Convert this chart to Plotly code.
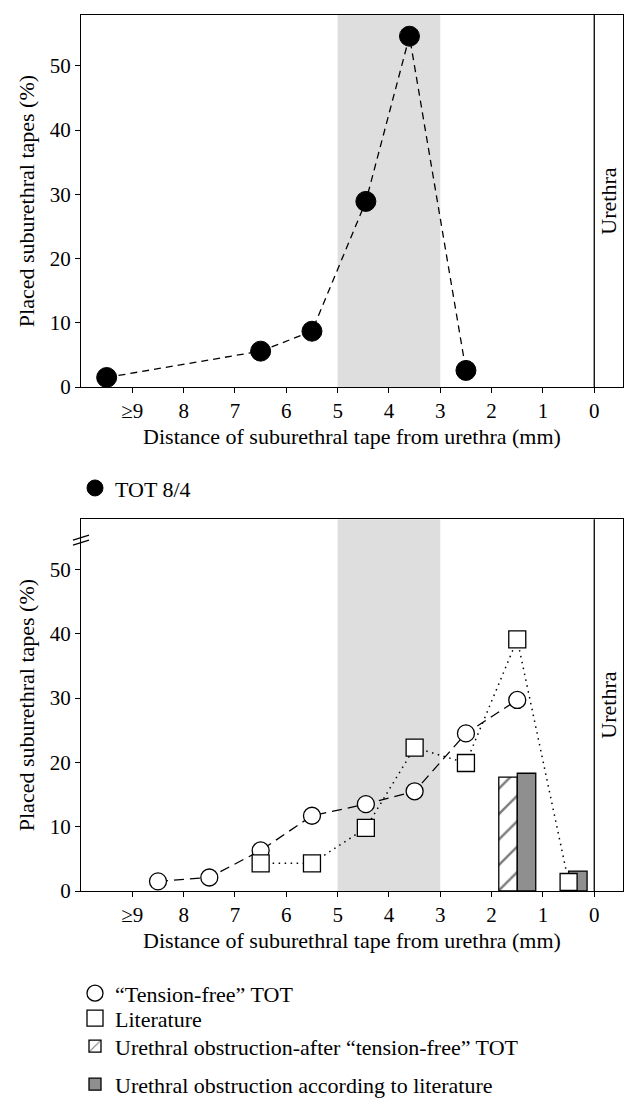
import plotly.graph_objects as go
from plotly.subplots import make_subplots

###############################################################################
# Data
###############################################################################
# distance (mm) for each point
top_x = [9.5, 6.5, 5.5, 4.45, 3.6, 2.5]
top_y = [1.5, 5.6, 8.7, 28.9, 54.6, 2.6]

free_x = [8.5, 7.5, 6.5, 5.5, 4.45, 3.5, 2.5, 1.5]
free_y = [1.5, 2.1, 6.3, 11.7, 13.5, 15.5, 24.5, 29.7]

lit_x = [6.5, 5.5, 4.45, 3.5, 2.5, 1.5, 0.5]
lit_y = [4.3, 4.3, 9.8, 22.3, 19.9, 39.1, 1.4]

obst_free_x = [1.5]
obst_free_y = [17.7]
obst_lit_x = [1.5, 0.5]
obst_lit_y = [18.3, 3.1]

tick_vals = [9, 8, 7, 6, 5, 4, 3, 2, 1, 0]
tick_text = ["≥9", "8", "7", "6", "5", "4", "3", "2", "1", "0"]

FONT = "Liberation Serif"
# page has an 8px body margin, so the figure is drawn 8px smaller
W, H = 630, 1106
ML, MR, MT, MB = 73, 15, 7, 223.3
ph = H - MT - MB
pw = W - ML - MR


def py(px):
    # page pixel row -> paper y
    return (H - MB - (px - 8)) / ph


def pxx(px):
    # page pixel column -> paper x
    return (px - 8 - ML) / pw


###############################################################################
# Figure
###############################################################################
fig = make_subplots(rows=2, cols=1, vertical_spacing=0.05)

# top chart
fig.add_trace(go.Scatter(x=top_x, y=top_y, mode="lines", showlegend=False,
                         line=dict(color="black", width=1.3, dash="7px,5px")),
              row=1, col=1)
fig.add_trace(go.Scatter(x=top_x, y=top_y, mode="markers", name="TOT 8/4",
                         legend="legend", cliponaxis=False,
                         marker=dict(symbol="circle", size=20, color="black",
                                     line=dict(color="black", width=1))),
              row=1, col=1)

# bottom chart - bars first
fig.add_trace(go.Bar(x=obst_free_x, y=obst_free_y, offset=0, width=0.36,
                     name="Urethral obstruction-after \u201ctension-free\u201d TOT",
                     legend="legend4",
                     marker=dict(color="white",
                                 line=dict(color="black", width=1.3),
                                 pattern=dict(shape="/", fgcolor="black",
                                              bgcolor="white", size=18,
                                              solidity=0.14))),
              row=2, col=1)
fig.add_trace(go.Bar(x=obst_lit_x, y=obst_lit_y, offset=-0.36, width=0.36,
                     name="Urethral obstruction according to literature",
                     legend="legend5",
                     marker=dict(color="#8f8f8f",
                                 line=dict(color="black", width=1.3))),
              row=2, col=1)

fig.add_trace(go.Scatter(x=free_x, y=free_y, mode="lines", showlegend=False,
                         line=dict(color="black", width=1.3, dash="10px,6px")),
              row=2, col=1)
fig.add_trace(go.Scatter(x=lit_x, y=lit_y, mode="lines", showlegend=False,
                         line=dict(color="black", width=1.5, dash="1.5px,4.5px")),
              row=2, col=1)
fig.add_trace(go.Scatter(x=free_x, y=free_y, mode="markers",
                         name="\u201cTension-free\u201d TOT", legend="legend2",
                         cliponaxis=False,
                         marker=dict(symbol="circle", size=17, color="white",
                                     line=dict(color="black", width=1.3))),
              row=2, col=1)
fig.add_trace(go.Scatter(x=lit_x, y=lit_y, mode="markers", name="Literature",
                         legend="legend3", cliponaxis=False,
                         marker=dict(symbol="square", size=17, color="white",
                                     line=dict(color="black", width=1.3))),
              row=2, col=1)

# shaded 3-5 mm zone, urethra line, label
for r in (1, 2):
    xr = "x" if r == 1 else "x2"
    yd = "y domain" if r == 1 else "y2 domain"
    fig.add_shape(type="rect", xref=xr, yref=yd, x0=5, x1=3, y0=0, y1=1,
                  fillcolor="#dedede", line=dict(width=0), layer="below")
    fig.add_shape(type="line", xref=xr, yref=yd, x0=0, x1=0, y0=0, y1=1,
                  line=dict(color="black", width=1.3))
    fig.add_annotation(xref=xr, yref=yd, x=-0.26, y=0.5, text="Urethra",
                       textangle=-90, showarrow=False,
                       font=dict(family=FONT, size=22, color="black"))

# axis break mark on bottom y axis
for dy in (0, 5):
    fig.add_shape(type="line", xref="paper", yref="paper",
                  x0=pxx(73), x1=pxx(89), y0=py(540 + dy), y1=py(535 + dy),
                  line=dict(color="black", width=1.3))

axis_common = dict(showline=True, linecolor="black", linewidth=1.3,
                   mirror=True, showgrid=False, zeroline=False,
                   automargin=False,
                   ticks="outside", ticklen=5, tickcolor="black",
                   tickfont=dict(family=FONT, size=21, color="black"),
                   title_font=dict(family=FONT, size=22, color="black"))
fig.update_xaxes(axis_common, range=[10, -0.56], tickvals=tick_vals,
                 ticktext=tick_text,
                 title_text="Distance of suburethral tape from urethra (mm)",
                 title_standoff=6)
fig.update_yaxes(axis_common, tickvals=[0, 10, 20, 30, 40, 50],
                 title_text="Placed suburethral tapes (%)", title_standoff=8)
fig.update_yaxes(range=[0, 57.9], domain=[py(387), 1.0], row=1, col=1)
fig.update_yaxes(range=[0, 57.8], domain=[0, py(519)], row=2, col=1)

leg = dict(x=pxx(75), xanchor="left", yanchor="middle",
           font=dict(family=FONT, size=22), bgcolor="rgba(0,0,0,0)")
fig.update_layout(
    width=W, height=H,
    margin=dict(l=ML, r=MR, t=MT, b=MB, autoexpand=False),
    plot_bgcolor="white", paper_bgcolor="white",
    barmode="overlay",
    font=dict(family=FONT, size=22, color="black"),
    legend=dict(leg, y=py(488)),
    legend2=dict(leg, y=py(993)),
    legend3=dict(leg, y=py(1018)),
    legend4=dict(leg, y=py(1046)),
    legend5=dict(leg, y=py(1084)),
)

fig.write_html("out.html")
